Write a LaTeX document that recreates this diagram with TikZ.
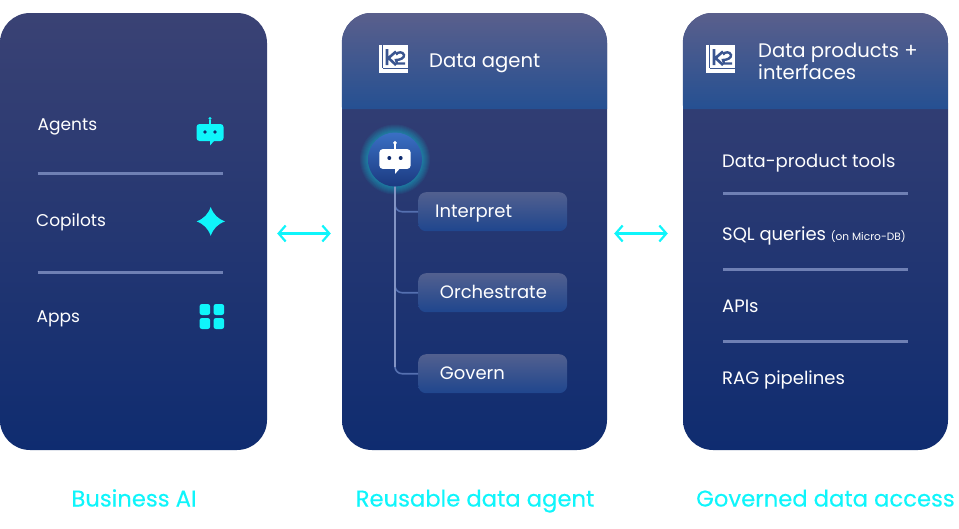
\documentclass[tikz,border=0pt]{standalone}
\usepackage{fontspec}
\setmainfont{Poppins}
\newfontfamily\capfont[FakeBold=0.25]{Poppins}
\usepackage{tikz}
\usetikzlibrary{positioning}
\usetikzlibrary{arrows.meta}
\definecolor{kcyan}{HTML}{0FF5FB}
\definecolor{kbodytop}{HTML}{3A4274}
\definecolor{kbodybot}{HTML}{0F2C70}
\definecolor{kheadtop}{HTML}{5A5F8C}
\definecolor{kheadbot}{HTML}{255092}
\definecolor{klogoblue}{HTML}{3A5590}
\definecolor{kline}{HTML}{8394C4}
\definecolor{krule}{HTML}{6F80B4}
\definecolor{kbranch}{HTML}{5570B0}
\definecolor{ksteptop}{HTML}{52608F}
\definecolor{kstepbot}{HTML}{1F468E}
\definecolor{kbottop}{HTML}{3A6FC4}
\definecolor{kbotbot}{HTML}{1B3A80}

\begin{document}
\begin{tikzpicture}[x=1pt, y=-1pt, >=Stealth,
    panel/.style={minimum height=437pt, inner sep=0pt, rounded corners=30pt,
        top color=kbodytop, bottom color=kbodybot},
    item/.style={text=white, anchor=base west, inner sep=0pt, font=\fontsize{17}{20}\selectfont},
    itemwide/.style={text=white, anchor=base west, inner sep=0pt, font=\fontsize{18}{20}\selectfont},
    headtext/.style={text=white, inner sep=0pt, align=left, font=\fontsize{19.6}{22.5}\selectfont},
    caption/.style={text=kcyan, anchor=base, inner sep=0pt, font=\capfont\fontsize{22.7}{24}\selectfont},
    stepbox/.style={minimum width=149pt, minimum height=39pt, inner sep=0pt, rounded corners=8pt,
        top color=ksteptop, bottom color=kstepbot},
    rule/.style={draw=krule, line width=2.1pt},
    tree/.style={draw=kbranch, line width=1.6pt, rounded corners=7pt},
    trunk/.style={draw=kline, line width=1.6pt, shorten >=7pt},
    link/.style={{Straight Barb[length=7pt,width=16pt]}-{Straight Barb[length=7pt,width=16pt]}, draw=kcyan, line width=2.2pt},
    boticon/.pic={
        \fill[pic actions] (-13.5,-8.5) [rounded corners=3pt] -- (13.5,-8.5) -- (13.5,8.5) [sharp corners] -- (4,8.5) -- (0,13) -- (0,8.5) [rounded corners=3pt] -- (-13.5,8.5) -- cycle;
        \fill[pic actions] (-0.6,-8.5) rectangle (0.6,-13);
        \fill[pic actions] (0,-14) circle (1.7);
    },
    logoicon/.pic={
        \fill[white] (0,0) rectangle (29,28);
        \fill[klogoblue] (3,-0.1) rectangle (4.2,23);
        \fill[klogoblue] (4.2,23) rectangle (29.1,24);
        \draw[klogoblue, line width=2.6pt] (8,4) -- (8,20) (17,6.5) -- (9.5,13) -- (17,20);
        \draw[klogoblue, line width=2.4pt] (17,9.5) .. controls (19,6.5) and (24,6.5) .. (25,10) .. controls (25.5,13) and (21,15) .. (17,15) -- (18,18.5) -- (26,18.5);
    }]

    \useasboundingbox (0,0) rectangle (959,528);

    % Panels
    \node[panel, minimum width=267pt] (bizpanel) at (133.5,231.5) {};
    \node[panel, minimum width=265pt] (agentpanel) at (474.5,231.5) {};
    \node[panel, minimum width=265pt] (datapanel) at (815.5,231.5) {};

    % Header bands, clipped to the panels
    \foreach \p/\cx in {agentpanel/474.5, datapanel/815.5} {
        \begin{scope}
            \clip (\cx-132.5,109) [rounded corners=30pt] -- (\p.north west) -- (\p.north east) [sharp corners] -- (\cx+132.5,109) -- cycle;
            \shade[shading angle=35, top color=kheadtop, bottom color=kheadbot] (\cx-133,13) rectangle (\cx+133,109);
        \end{scope}
    }

    % Left panel
    \node[item] (agents) at (37.5,130.7) {Agents};
    \node[item] (copilots) at (36,226.7) {Copilots};
    \node[item] (apps) at (36.5,322.7) {Apps};
    \draw[rule] (37.5,173.5) -- (222.5,173.5);
    \draw[rule] (37.5,272.5) -- (222.5,272.5);
    \path[fill=kcyan] (210,132.5) pic {boticon};
    \fill[kbodybot] (205,132) circle (1.8) (215,132) circle (1.8);
    \fill[kcyan] (210.7,207) .. controls (213.5,214.5) and (217.5,218.5) .. (225,221.4) .. controls (217.5,224.3) and (213.5,228.3) .. (210.7,235.8) .. controls (207.9,228.3) and (204,224.3) .. (196.7,221.4) .. controls (204,218.5) and (207.9,214.5) .. (210.7,207) -- cycle;
    \foreach \ax/\ay in {199.5/304, 213.5/304, 199.5/318, 213.5/318}
        \fill[kcyan, rounded corners=2.5pt] (\ax,\ay) rectangle ++(10.7,11);

    % Middle panel
    \path (379,45) pic {logoicon};
    \node[headtext, anchor=base west] (agenttitle) at (429,67.3) {Data agent};
    \foreach \r in {35,34,33,32,31,30,29,28}
        \fill[kcyan, opacity=0.05] (395,159.5) circle (\r);
    \node[circle, minimum size=54pt, inner sep=0pt, top color=kbottop, bottom color=kbotbot] (botnode) at (395,159.5) {};
    \node[stepbox, anchor=north west] (interpret) at (418,192) {};
    \node[stepbox, anchor=north west] (orchestrate) at (418,273) {};
    \node[stepbox, anchor=north west] (govern) at (418,354) {};
    \node[itemwide] (interpretlabel) at (435,217.7) {Interpret};
    \node[itemwide] (orchestratelabel) at (439.7,298.5) {Orchestrate};
    \node[itemwide] (governlabel) at (439.7,379.5) {Govern};
    \draw[tree] (botnode.south) |- (interpret.west);
    \draw[tree] (botnode.south) |- (orchestrate.west);
    \draw[tree] (botnode.south) |- (govern.west);
    \draw[trunk] (botnode.south) -- (botnode.south |- govern.west);
    \path[fill=white] (395,159) pic[scale=1.15] {boticon};
    \fill[kbodybot] (389.3,158) circle (2) (400.7,158) circle (2);

    % Right panel
    \path (706,45) pic {logoicon};
    \node[headtext, anchor=west] (datatitle) at (758,61.3) {Data products +\\interfaces};
    \node[itemwide] (tools) at (722,167.5) {Data-product tools};
    \node[itemwide] (sql) at (722,240) {SQL queries \fontsize{10.6}{12}\selectfont(on Micro-DB)};
    \node[itemwide] (apis) at (722,312) {APIs};
    \node[itemwide] (rag) at (722,384) {RAG pipelines};
    \draw[rule] (723,193.5) -- (908,193.5);
    \draw[rule] (723,269.5) -- (908,269.5);
    \draw[rule] (723,341.5) -- (908,341.5);

    % Links between panels
    \draw[link, shorten <=10pt, shorten >=11pt] ([yshift=-2pt]bizpanel.east) -- ([yshift=-2pt]agentpanel.west);
    \draw[link, shorten <=7pt, shorten >=15pt] ([yshift=-2pt]agentpanel.east) -- ([yshift=-2pt]datapanel.west);

    % Captions
    \node[caption] (bizcap) at (134,506.5) {Business AI};
    \node[caption] (agentcap) at (475,506.5) {Reusable data agent};
    \node[caption] (datacap) at (825.5,506.5) {Governed data access};
\end{tikzpicture}
\end{document}
